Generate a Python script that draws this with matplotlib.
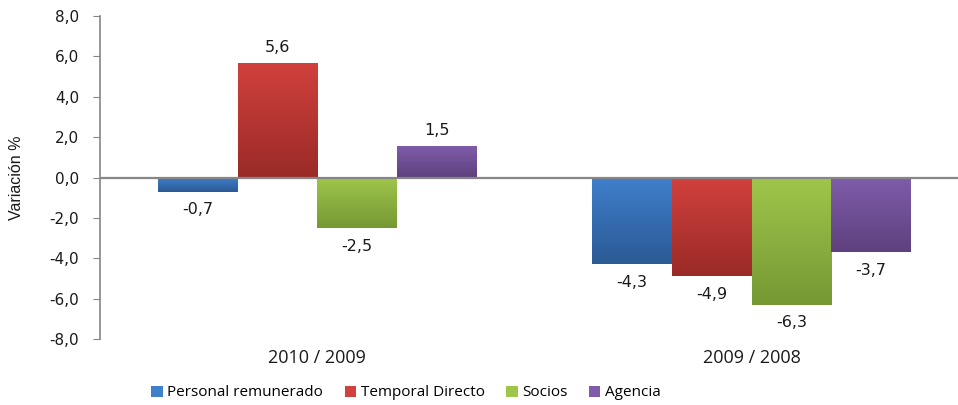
import numpy as np
import matplotlib
matplotlib.use("Agg")
import matplotlib.pyplot as plt
from matplotlib.colors import LinearSegmentedColormap
from matplotlib.patches import Patch

# employment variation by contract type
periodos = ["2010 / 2009", "2009 / 2008"]
series = ["Personal remunerado", "Temporal Directo", "Socios", "Agencia"]
personal = [-0.7, -4.3]
temporal = [5.6, -4.9]
socios = [-2.5, -6.3]
agencia = [1.5, -3.7]
valores = [personal, temporal, socios, agencia]

# (top colour, bottom colour) for each series gradient
colores = [("#3f7fcc", "#2b5a95"),
           ("#d1413d", "#9a2a27"),
           ("#9fc64b", "#769834"),
           ("#7f5caa", "#5e417e")]

fig = plt.figure(figsize=(9.58, 4.05), dpi=100)
ax = fig.add_axes([100 / 958, 1 - 339 / 405, 1 - 100 / 958, 323 / 405])

x = np.arange(len(periodos))
ancho = 0.1833
for i, (vals, (c_top, c_bot)) in enumerate(zip(valores, colores)):
    pos = x + (i - 1.5) * ancho
    barras = ax.bar(pos, vals, width=ancho, color=c_top, linewidth=0, zorder=2)
    cmap = LinearSegmentedColormap.from_list("g%d" % i, [c_bot, c_top])
    for b, v in zip(barras, vals):
        x0, y0 = b.get_x(), b.get_y()
        x1, y1 = x0 + b.get_width(), y0 + b.get_height()
        ylo, yhi = min(y0, y1), max(y0, y1)
        grad = np.linspace(0, 1, 256).reshape(-1, 1)
        ax.imshow(grad, cmap=cmap, origin="lower", aspect="auto",
                  extent=(x0, x1, ylo, yhi), zorder=3, interpolation="bilinear")
        txt = ("%.1f" % v).replace(".", ",")
        off = 12 if v >= 0 else -13
        ax.annotate(txt, (b.get_x() + b.get_width() / 2, v),
                    xytext=(0, off), textcoords="offset points",
                    ha="center", va="center", fontsize=11.5,
                    family="DejaVu Sans", color="#1a1a1a")

ax.set_xlim(-0.5, 1.475)
ax.set_ylim(-8, 8)
ax.set_yticks(np.arange(-8, 9, 2))
ax.set_yticklabels([("%.1f" % t).replace(".", ",") for t in np.arange(-8, 9, 2)],
                   fontsize=11, family="DejaVu Sans", color="#1a1a1a")
ax.tick_params(axis="y", direction="out", length=5, color="#868686", pad=10)
ax.tick_params(axis="x", length=0)
ax.set_xticks([])

for s in ["top", "right", "bottom"]:
    ax.spines[s].set_visible(False)
ax.spines["left"].set_color("#868686")
ax.spines["left"].set_linewidth(1.2)
ax.axhline(0, color="#868686", linewidth=1.6, zorder=4)

for xi, p in zip(x, periodos):
    ax.annotate(p, (xi, -8), xytext=(0, -13.5), textcoords="offset points",
                ha="center", va="center", fontsize=13, family="Open Sans",
                color="#1a1a1a", annotation_clip=False)

ax.set_ylabel("Variación %", fontsize=11.5,
              family=["Liberation Sans Narrow", "Liberation Sans"], color="#1a1a1a")
ax.yaxis.set_label_coords(-76 / 858, 0.5)

handles = [Patch(facecolor=c[0], edgecolor="none") for c in colores]
fig.legend(handles, series, loc="center", bbox_to_anchor=(406 / 958, 1 - 393 / 405),
           ncol=4, frameon=False, handlelength=0.75, handleheight=0.75,
           handletextpad=0.3, columnspacing=1.4,
           prop={"family": "Open Sans", "size": 11})

fig.savefig("out.png", dpi=100)
